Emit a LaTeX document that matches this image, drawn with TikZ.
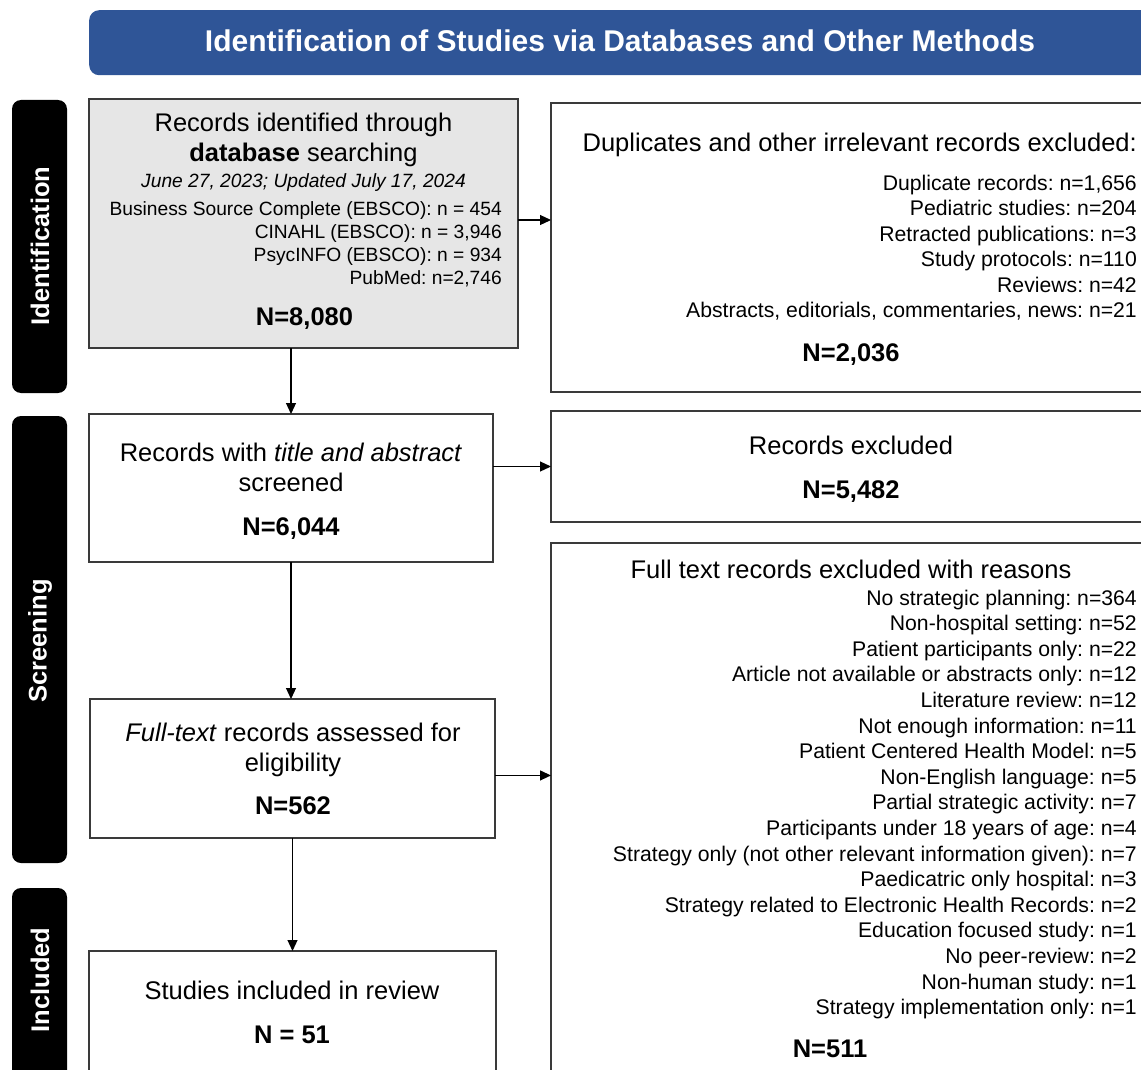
\documentclass[tikz,border=0pt]{standalone}
\usepackage{fontspec}
\setmainfont{Liberation Sans}
\usetikzlibrary{arrows.meta,calc}
\frenchspacing
\definecolor{hdr}{HTML}{2F5597}
\definecolor{gfill}{HTML}{E6E6E6}
\definecolor{bord}{HTML}{3A3A3A}
\newcommand{\fsT}{\fontsize{25.5}{30}\selectfont}
\newcommand{\fsS}{\fontsize{19.2}{23}\selectfont}
\newcommand{\fsL}{\fontsize{21.2}{25}\selectfont}
\newcommand{\fsH}{\fontsize{30}{36}\selectfont}
\begin{document}
\begin{tikzpicture}[x=1pt,y=-1pt,
 box/.style={draw=bord, line width=1.3pt, anchor=north west, inner sep=0pt, outer sep=0pt},
 side/.style={fill=black, rounded corners=9pt, anchor=north west, inner sep=0pt, outer sep=0pt},
 sidetext/.style={text=white, font=\fsT\bfseries, rotate=90, inner sep=0pt},
 ttl/.style={anchor=base, inner sep=0pt, font=\fsT},
 num/.style={anchor=base, inner sep=0pt, font=\fsT\bfseries},
 lst/.style={anchor=base east, inner sep=0pt, font=\fsS},
 lstb/.style={anchor=base east, inner sep=0pt, font=\fsL},
 arr/.style={draw=black, line width=1.2pt, -{Triangle[length=11pt,width=10pt]}}
]
\useasboundingbox (0,0) rectangle (1141,1070);
\clip (0,0) rectangle (1141,1070);

% header
\node[fill=hdr, rounded corners=10pt, anchor=north west, minimum width=1071pt, minimum height=65pt, inner sep=0pt] (hdr) at (89,10) {};
\node[anchor=base, inner sep=0pt, text=white, font=\fsH\bfseries] (htext) at (620,52) {Identification of Studies via Databases and Other Methods};

% side labels
\node[side, minimum width=55pt, minimum height=293pt] (s1) at (12,100) {};
\node[side, minimum width=55pt, minimum height=447pt] (s2) at (12,416) {};
\node[side, minimum width=55pt, minimum height=202pt] (s3) at (12,888) {};
\node[sidetext] (s1t) at (40,246) {Identification};
\node[sidetext] (s2t) at (40,641) {Screening};
\node[sidetext] (s3t) at (40,980) {Included};

% boxes
\node[box, fill=gfill, minimum width=429pt, minimum height=249pt] (b1) at (89,99) {};
\node[box, minimum width=609pt, minimum height=289pt] (b2) at (551,103) {};
\node[box, minimum width=404pt, minimum height=148pt] (b3) at (89,414) {};
\node[box, minimum width=609pt, minimum height=111pt] (b4) at (551,411) {};
\node[box, minimum width=405pt, minimum height=139pt] (b5) at (90,699) {};
\node[box, minimum width=609pt, minimum height=547pt] (b6) at (551,543) {};
\node[box, minimum width=407pt, minimum height=139pt] (b7) at (89,951) {};

% box 1 text
\node[ttl] (t1a) at (303.5,132) {Records identified through};
\node[ttl] (t1b) at (303.5,162) {\textbf{database} searching};
\node[ttl, font=\fsS\itshape] (t1c) at (303.5,187) {June 27, 2023; Updated July 17, 2024};
\foreach \t [count=\i from 0] in {{Business Source Complete (EBSCO): n = 454},{CINAHL (EBSCO): n = 3,946},{PsycINFO (EBSCO): n = 934},{PubMed: n=2,746}}
  \node[lst] (d\i) at (502,215+23*\i) {\t};
\node[num] (n1) at (304.5,325) {N=8,080};

% box 2 text
\node[anchor=base east, inner sep=0pt, font=\fsT] (t2) at (1137,152) {Duplicates and other irrelevant records excluded:};
\foreach \t [count=\i from 0] in {{Duplicate records: n=1,656},{Pediatric studies: n=204},{Retracted publications: n=3},{Study protocols: n=110},{Reviews: n=42},{Abstracts, editorials, commentaries, news: n=21}}
  \node[lstb] (e\i) at (1137,190+25.5*\i) {\t};
\node[num] (n2) at (851,361) {N=2,036};

% box 3 text
\node[ttl] (t3a) at (291,461) {Records with \textit{title and abstract}};
\node[ttl] (t3b) at (291,491) {screened};
\node[num] (n3) at (291,535) {N=6,044};

% box 4 text
\node[ttl] (t4) at (851,454) {Records excluded};
\node[num] (n4) at (851,498) {N=5,482};

% box 5 text
\node[ttl] (t5a) at (293,741) {\textit{Full-text} records assessed for};
\node[ttl] (t5b) at (293,771) {eligibility};
\node[num] (n5) at (293,814) {N=562};

% box 6 text
\node[ttl] (t6) at (851,578) {Full text records excluded with reasons};
\foreach \t [count=\i from 0] in {
 {No strategic planning: n=364},
 {Non-hospital setting: n=52},
 {Patient participants only: n=22},
 {Article not available or abstracts only: n=12},
 {Literature review: n=12},
 {Not enough information: n=11},
 {Patient Centered Health Model: n=5},
 {Non-English language: n=5},
 {Partial strategic activity: n=7},
 {Participants under 18 years of age: n=4},
 {Strategy only (not other relevant information given): n=7},
 {Paedicatric only hospital: n=3},
 {Strategy related to Electronic Health Records: n=2},
 {Education focused study: n=1},
 {No peer-review: n=2},
 {Non-human study: n=1},
 {Strategy implementation only: n=1}}
  \node[lstb] (r\i) at (1137,605+25.6*\i) {\t};
\node[num] (n6) at (830,1057) {N=511};

% box 7 text
\node[ttl] (t7) at (292,999) {Studies included in review};
\node[num] (n7) at (292,1043) {N = 51};

% connectors
\coordinate (a1) at ($(b1.north east)!0.486!(b1.south east)$);
\coordinate (a5) at ($(b5.north east)!0.55!(b5.south east)$);
\draw[arr] (b1.south -| b3.north) -- (b3.north);
\draw[arr] (a1) -- (a1 -| b2.west);
\draw[arr] (b3.east |- b4.west) -- (b4.west);
\draw[arr] (b3.south) -- (b3.south |- b5.north);
\draw[arr] (a5) -- (a5 -| b6.west);
\draw[arr] (b5.south) -- (b5.south |- b7.north);
\end{tikzpicture}
\end{document}
